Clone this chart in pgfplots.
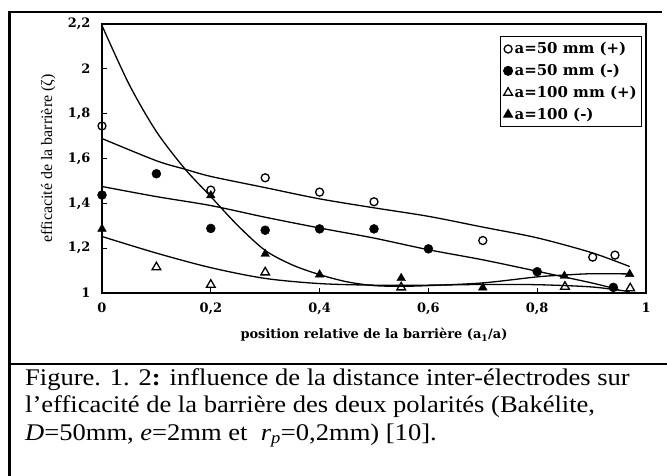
\documentclass[border=0pt]{standalone}
\usepackage{fontspec}
\setmainfont{Liberation Serif}
\newfontfamily\dvs{DejaVu Serif}
\newfontfamily\capfont[FakeStretch=1.11]{Liberation Serif}
\usepackage{pgfplots}
\pgfplotsset{compat=1.18}

\begin{document}
\begin{tikzpicture}
\useasboundingbox (0,0) rectangle (667bp,476bp);
% outer frame of the figure cell
\draw[line width=2.5bp] (9.5bp,0) -- (9.5bp,464bp) -- (662bp,464bp);
\draw[line width=2.5bp] (9.5bp,112bp) -- (667bp,112bp);

\begin{axis}[
    at={(102bp,183bp)}, anchor=south west,
    scale only axis, width=544bp, height=269bp,
    xmin=0, xmax=1, ymin=1, ymax=2.2,
    xtick={0,0.2,0.4,0.6,0.8,1},
    ytick={1,1.2,1.4,1.6,1.8,2,2.2},
    xtick pos=bottom, ytick pos=left,
    tick align=inside, major tick length=5bp,
    axis line style={line width=1.4bp},
    tick style={line width=1bp, black},
    /pgf/number format/assume math mode=true,
    /pgf/number format/use comma,
    ticklabel style={font=\dvs\bfseries\fontsize{13}{15}\selectfont},
    yticklabel style={xshift=-8bp},
    xticklabel style={yshift=-6bp},
    xlabel={position relative de la barrière (a\textsubscript{1}/a)},
    xlabel style={font=\dvs\bfseries\fontsize{13}{15}\selectfont,
        at={(axis description cs:0.5,-0.156)}, anchor=center},
    ylabel={efficacité de la barrière (ζ)},
    ylabel style={font=\fontsize{16}{18}\selectfont,
        at={(axis description cs:-0.099,0.5)}, anchor=center},
    legend style={at={(axis description cs:0.993,0.955)}, anchor=north east,
        draw=black, line width=1bp,
        font=\dvs\bfseries\fontsize{15}{18}\selectfont,
        cells={anchor=west}, row sep=5bp,
        inner xsep=3bp, inner ysep=4bp},
    legend image post style={xshift=-2bp},
]
% fitted curves
\addplot[smooth, line width=1.3bp, forget plot] coordinates {
    (0,1.689) (0.1,1.59) (0.153,1.552) (0.2,1.52) (0.3,1.47) (0.4,1.42)
    (0.5,1.38) (0.6,1.342) (0.7,1.294) (0.8,1.246) (0.9,1.18) (0.97,1.118)};
\addplot[smooth, line width=1.3bp, forget plot] coordinates {
    (0,1.475) (0.1,1.43) (0.2,1.39) (0.3,1.338) (0.4,1.29) (0.5,1.245)
    (0.6,1.193) (0.7,1.148) (0.8,1.097) (0.9,1.045) (0.95,1.015)};
\addplot[smooth, line width=1.3bp, forget plot] coordinates {
    (0,2.193) (0.05,1.93) (0.1,1.72) (0.153,1.552) (0.2,1.43) (0.25,1.3)
    (0.3,1.19) (0.35,1.125) (0.4,1.082) (0.45,1.05) (0.5,1.033) (0.55,1.03)
    (0.6,1.033) (0.7,1.045) (0.8,1.072) (0.85,1.08) (0.9,1.086) (0.97,1.085)};
\addplot[smooth, line width=1.3bp, forget plot] coordinates {
    (0,1.252) (0.1,1.178) (0.2,1.113) (0.3,1.065) (0.4,1.042) (0.5,1.035)
    (0.6,1.035) (0.7,1.038) (0.8,1.037) (0.9,1.027) (0.97,1.006)};

% measured points
\addplot[only marks, mark=o, mark size=4bp, mark options={line width=1.3bp}] coordinates {
    (0,1.745) (0.2,1.459) (0.3,1.514) (0.4,1.45) (0.5,1.407)
    (0.7,1.234) (0.902,1.16) (0.943,1.169)};
\addlegendentry{a=50 mm (+)}
\addplot[only marks, mark=*, mark size=4.5bp] coordinates {
    (0,1.437) (0.1,1.532) (0.2,1.288) (0.3,1.28) (0.4,1.286) (0.5,1.286)
    (0.6,1.197) (0.8,1.095) (0.94,1.025)};
\addlegendentry{a=50 mm (-)}
\addplot[only marks, mark=triangle, mark size=5bp, mark options={line width=1.3bp}] coordinates {
    (0.1,1.115) (0.2,1.037) (0.3,1.092) (0.55,1.025) (0.851,1.028) (0.971,1.021)};
\addlegendentry{a=100 mm (+)}
\addplot[only marks, mark=triangle*, mark size=5bp] coordinates {
    (0,1.286) (0.2,1.435) (0.3,1.174) (0.4,1.082) (0.55,1.066)
    (0.7,1.024) (0.85,1.076) (0.97,1.084)};
\addlegendentry{a=100 (-)}
\end{axis}

% caption
\begin{scope}[every node/.style={anchor=base west, inner sep=0pt,
    font=\capfont\fontsize{24}{27}\selectfont}]
\node at (25bp,90bp) {Figure. 1. 2\textbf{:} influence de la distance inter-électrodes sur};
\node at (25bp,63bp) {l’efficacité de la barrière des deux polarités (Bakélite,};
\node at (25bp,36bp) {\textit{D}=50mm, \textit{e}=2mm et\ \ \textit{r}\textsubscript{\textit{p}}=0,2mm) [10].};
\end{scope}
\end{tikzpicture}
\end{document}
